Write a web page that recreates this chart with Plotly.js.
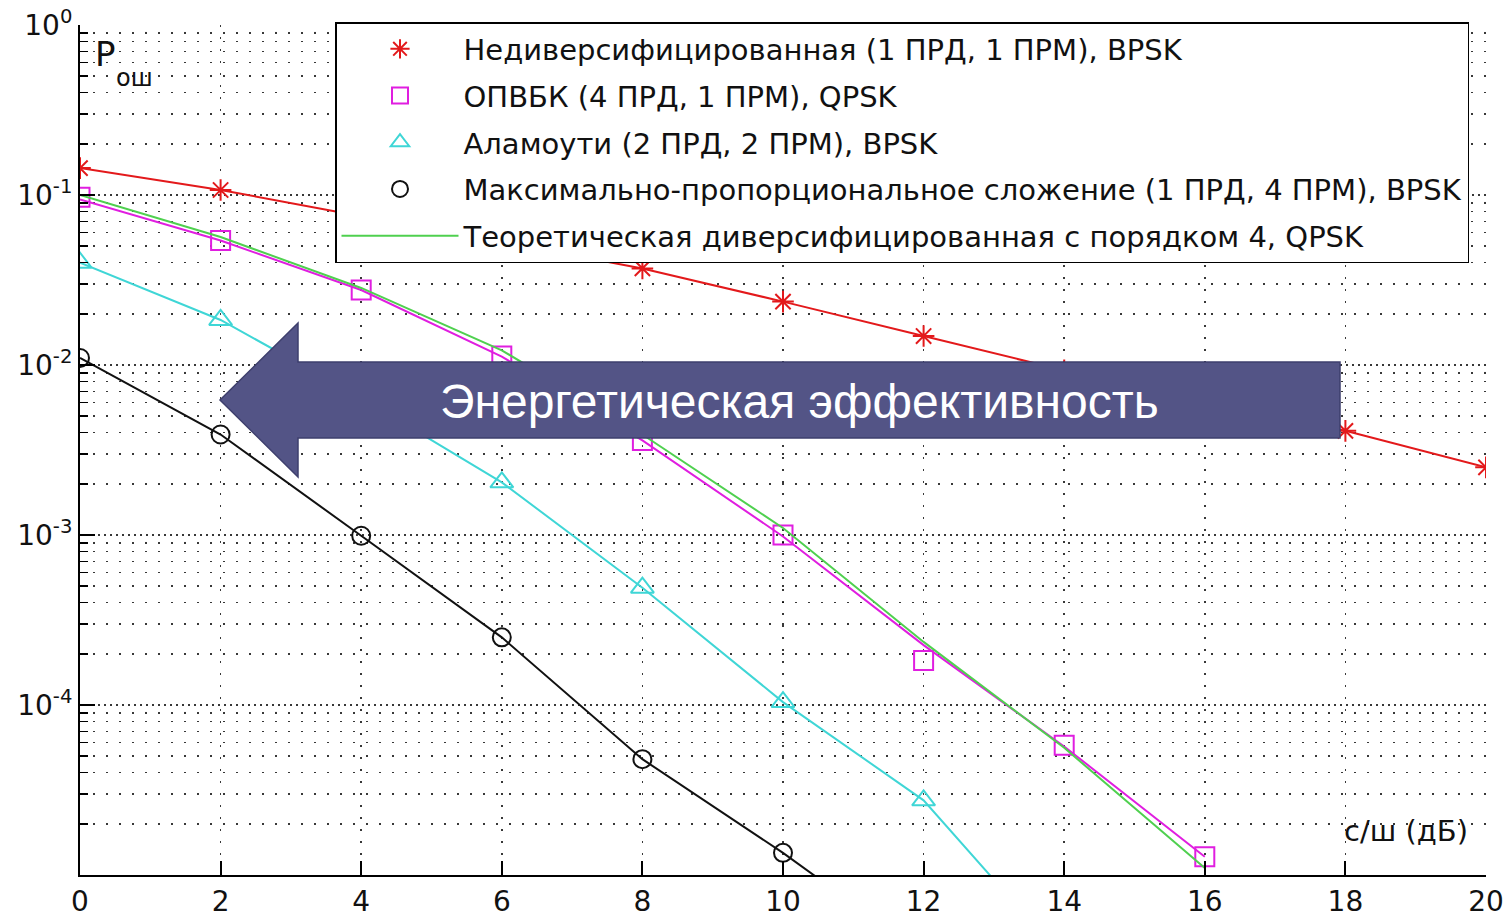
<!DOCTYPE html>
<html>
<head>
<meta charset="utf-8">
<script src="https://cdn.plot.ly/plotly-3.0.1.min.js"></script>
<style>
  html, body { margin: 0; padding: 0; background: #ffffff; }
  #chart { width: 1507px; height: 917px; }
</style>
</head>
<body>
<div id="chart"></div>
<script>
// Отношение сигнал/шум, дБ
const snrDb = [0, 2, 4, 6, 8, 10, 12, 14, 16, 18, 20];

// Недиверсифицированная схема (1 ПРД, 1 ПРМ), BPSK
const berNoDiversity = [0.144, 0.107, 0.075, 0.053, 0.037, 0.0236, 0.0148, 0.0093, 0.0060, 0.0041, 0.0025];

// ОПВБК (4 ПРД, 1 ПРМ), QPSK: точки моделирования и соединяющая кривая
const snrOstbc = [0, 2, 4, 6, 8, 10, 12, 14, 16];
const berOstbcPoints = [0.097, 0.054, 0.0276, 0.0113, 0.0036, 0.00100, 1.83e-4, 5.8e-5, 1.28e-5];
const berOstbcCurve = [0.094, 0.054, 0.0276, 0.0112, 0.0036, 0.00098, 2.25e-4, 5.7e-5, 1.28e-5];

// Аламоути (2 ПРД, 2 ПРМ), BPSK
const snrAlamouti = [0, 2, 4, 6, 8, 10, 12, 14];
const berAlamouti = [0.040, 0.0184, 0.0064, 0.00204, 4.9e-4, 1.04e-4, 2.75e-5, 3.2e-6];

// Максимально-пропорциональное сложение (1 ПРД, 4 ПРМ), BPSK
const snrMrc = [0, 2, 4, 6, 8, 10, 12];
const berMrc = [0.011, 0.0039, 9.9e-4, 2.5e-4, 4.8e-5, 1.35e-5, 3.4e-6];

// Теоретическая кривая для разнесения 4-го порядка, QPSK
const snrTheory = [0, 2, 4, 6, 8, 10, 12, 14, 16];
const berTheory = [0.100, 0.0566, 0.0284, 0.0122, 0.0039, 0.0011, 2.35e-4, 5.6e-5, 1.1e-5];

const seriesNames = [
  'Недиверсифицированная (1 ПРД, 1 ПРМ), BPSK',
  'ОПВБК (4 ПРД, 1 ПРМ), QPSK',
  'Аламоути (2 ПРД, 2 ПРМ), BPSK',
  'Максимально-пропорциональное сложение (1 ПРД, 4 ПРМ), BPSK',
  'Теоретическая диверсифицированная с порядком 4, QPSK'
];

const yTickVals = [1e-4, 1e-3, 1e-2, 1e-1, 1];
const yTickText = ['10<sup>-4</sup>', '10<sup>-3</sup>', '10<sup>-2</sup>', '10<sup>-1</sup>', '10<sup>0</sup>'];

const annotationText = 'Энергетическая эффективность';
const yLabelMain = 'P';
const yLabelSub = 'ош';
const xLabel = 'с/ш (дБ)';

const RED = '#e3191b', MAGENTA = '#e01ee0', CYAN = '#3fd6d6', BLACK = '#111111', GREEN = '#4fd04f';
const FONT = 'DejaVu Sans, Liberation Sans, Arial, sans-serif';

function curve(x, y, color, group) {
  return { x: x, y: y, type: 'scatter', mode: 'lines', line: { color: color, width: 2 },
           showlegend: false, legendgroup: group, hoverinfo: 'skip' };
}
function points(x, y, name, color, symbol, size, group) {
  return { x: x, y: y, name: name, type: 'scatter', mode: 'markers', legendgroup: group,
           marker: { symbol: symbol, size: size, color: color, line: { color: color, width: 2 } } };
}

const traces = [
  curve(snrDb, berNoDiversity, RED, 'g1'),
  points(snrDb, berNoDiversity, seriesNames[0], RED, 'asterisk-open', 18, 'g1'),
  curve(snrOstbc, berOstbcCurve, MAGENTA, 'g2'),
  points(snrOstbc, berOstbcPoints, seriesNames[1], MAGENTA, 'square-open', 19, 'g2'),
  curve(snrAlamouti, berAlamouti, CYAN, 'g3'),
  points(snrAlamouti, berAlamouti, seriesNames[2], CYAN, 'triangle-up-open', 20, 'g3'),
  curve(snrMrc, berMrc, BLACK, 'g4'),
  points(snrMrc, berMrc, seriesNames[3], BLACK, 'circle-open', 18, 'g4'),
  { x: snrTheory, y: berTheory, name: seriesNames[4], type: 'scatter', mode: 'lines',
    line: { color: GREEN, width: 2 }, legendgroup: 'g5', hoverinfo: 'skip' }
];

const minorVals = [];
for (let e = -5; e < 0; e++) {
  for (let m = 2; m <= 9; m++) minorVals.push(m * Math.pow(10, e));
}

// plot-area geometry, used to place the block arrow and labels in paper units
const W = 1507, H = 917, ML = 80, MR = 21, MT = 25, MB = 42;
const pw = W - ML - MR, ph = H - MT - MB;
const px = v => (v - ML) / pw;
const py = v => (H - MB - v) / ph;
const arrowPts = [[220, 400], [298, 323], [298, 362], [1340, 362], [1340, 438], [298, 438], [298, 477]];
const arrowPath = 'M' + arrowPts.map(p => px(p[0]).toFixed(5) + ',' + py(p[1]).toFixed(5)).join(' L') + ' Z';

const gridColor = 'rgba(0,0,0,0.78)';

const layout = {
  width: W, height: H,
  margin: { l: ML, r: MR, t: MT, b: MB, pad: 0 },
  paper_bgcolor: '#ffffff', plot_bgcolor: '#ffffff',
  font: { family: FONT, color: '#111111', size: 28 },
  showlegend: true,
  xaxis: {
    range: [0, 20], tick0: 0, dtick: 2, zeroline: false,
    showline: true, linecolor: '#000000', linewidth: 2, mirror: false,
    ticks: 'inside', ticklen: 14, tickwidth: 2, tickcolor: '#000000',
    showgrid: true, gridcolor: gridColor, gridwidth: 1.5, griddash: '2px,10px',
    tickfont: { family: FONT, size: 28, color: '#111111' }
  },
  yaxis: {
    type: 'log', range: [-5, 0], zeroline: false,
    tickmode: 'array', tickvals: yTickVals, ticktext: yTickText,
    showline: true, linecolor: '#000000', linewidth: 2, mirror: false,
    ticks: 'inside', ticklen: 15, tickwidth: 2, tickcolor: '#000000',
    showgrid: true, gridcolor: gridColor, gridwidth: 1.5, griddash: '2px,4px',
    tickfont: { family: FONT, size: 28, color: '#111111' },
    minor: {
      tickmode: 'array', tickvals: minorVals, ticks: 'inside', ticklen: 8, tickwidth: 1.5,
      tickcolor: '#000000', showgrid: true, gridcolor: gridColor, gridwidth: 1.5, griddash: '2px,11px'
    }
  },
  legend: {
    x: px(335), y: py(22), xanchor: 'left', yanchor: 'top',
    bgcolor: '#ffffff', bordercolor: '#000000', borderwidth: 1.5,
    font: { family: FONT, size: 29, color: '#111111' },
    itemwidth: 117, traceorder: 'grouped', tracegroupgap: 6
  },
  shapes: [
    { type: 'path', xref: 'paper', yref: 'paper', path: arrowPath, layer: 'above',
      fillcolor: '#535486', line: { color: '#3e3f6d', width: 1.5 } }
  ],
  annotations: [
    { xref: 'paper', yref: 'paper', x: px(799), y: py(402), text: annotationText, showarrow: false,
      xanchor: 'center', yanchor: 'middle', font: { family: 'Liberation Sans, Arial, sans-serif', size: 48, color: '#ffffff' } },
    { xref: 'paper', yref: 'paper', x: px(93), y: py(54), text: yLabelMain, showarrow: false,
      xanchor: 'left', yanchor: 'middle', font: { family: FONT, size: 34, color: '#111111' } },
    { xref: 'paper', yref: 'paper', x: px(114), y: py(78), text: yLabelSub, showarrow: false,
      xanchor: 'left', yanchor: 'middle', font: { family: FONT, size: 24, color: '#111111' } },
    { xref: 'paper', yref: 'paper', x: px(1342), y: py(831), text: xLabel, showarrow: false,
      xanchor: 'left', yanchor: 'middle', font: { family: FONT, size: 29, color: '#111111' } }
  ]
};

Plotly.newPlot('chart', traces, layout, { displayModeBar: false, staticPlot: true });
</script>
</body>
</html>
